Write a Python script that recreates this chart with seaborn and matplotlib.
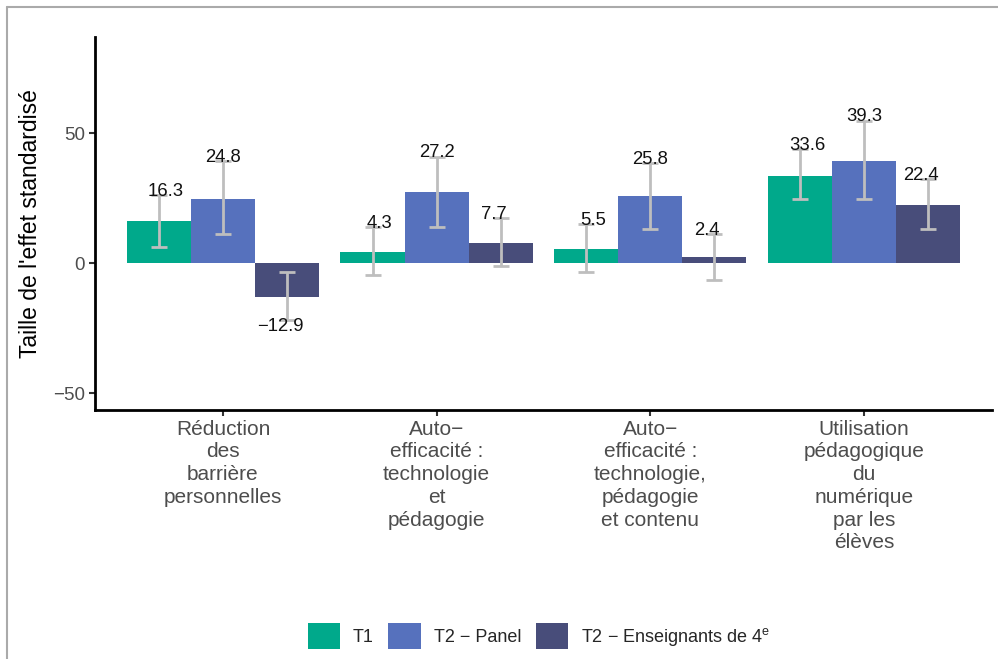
import matplotlib
matplotlib.use("Agg")
import matplotlib.pyplot as plt
import seaborn as sns
import pandas as pd
import numpy as np
from matplotlib.patches import Patch
from matplotlib.lines import Line2D

categories = ["Réduction\ndes\nbarrière\npersonnelles",
              "Auto−\nefficacité :\ntechnologie\net\npédagogie",
              "Auto−\nefficacité :\ntechnologie,\npédagogie\net contenu",
              "Utilisation\npédagogique\ndu\nnumérique\npar les\nélèves"]
series = ["T1", "T2 − Panel", "T2 − Enseignants de 4$^{\\mathrm{e}}$"]
t1 = [16.3, 4.3, 5.5, 33.6]
t2_panel = [24.8, 27.2, 25.8, 39.3]
t2_ens = [-12.9, 7.7, 2.4, 22.4]
t1_low = [6.3, -4.7, -3.5, 24.5]
t1_high = [26.2, 13.7, 15.0, 43.7]
panel_low = [11.0, 14.0, 13.2, 24.5]
panel_high = [39.2, 40.9, 38.3, 54.7]
ens_low = [-21.9, -1.2, -6.5, 13.1]
ens_high = [-3.5, 17.2, 11.0, 32.2]

colors = ["#00A98B", "#5671BD", "#484D7A"]

sns.set_theme(style="white")
plt.rcParams['font.family'] = ['Liberation Sans', 'DejaVu Sans']
plt.rcParams['axes.unicode_minus'] = True
plt.rcParams['mathtext.fontset'] = 'custom'
plt.rcParams['mathtext.rm'] = 'Liberation Sans'

values = [t1, t2_panel, t2_ens]
lows = [t1_low, panel_low, ens_low]
highs = [t1_high, panel_high, ens_high]
df = pd.DataFrame({
    "cat": np.repeat([categories], 3, axis=0).ravel(),
    "serie": np.repeat(series, len(categories)),
    "val": np.concatenate(values),
})

fig = plt.figure(figsize=(9.98, 6.59), dpi=100)
ax = fig.add_axes([0.095, 0.378, 0.899, 0.566])
sns.barplot(data=df, x="cat", y="val", hue="serie", order=categories,
            hue_order=series, palette=colors, width=0.9, errorbar=None,
            saturation=1, legend=False, ax=ax, edgecolor="none")

for cont, v, lo, hi in zip(ax.containers, values, lows, highs):
    xs = np.array([p.get_x() + p.get_width() / 2 for p in cont.patches])
    v = np.array(v); lo = np.array(lo); hi = np.array(hi)
    ax.errorbar(xs, v, yerr=[v - lo, hi - v], fmt="none", ecolor="#BEBEBE",
                elinewidth=2, capsize=6, capthick=2, zorder=3)
    # labels dodged with width 0.8 (vs bars 0.9)
    centers = np.round(xs)
    lx = centers + (xs - centers) * 0.8 / 0.9
    for x, val, l, h in zip(lx, v, lo, hi):
        y = h + 1.5 if val >= 0 else l - 2.5
        txt = f"{val:.1f}".replace("-", "−")
        ax.text(x, y, txt, ha="center", va="center", fontsize=13.3,
                color="#111111", zorder=4)

ax.set_xlim(-0.6, 3.6)
ax.set_ylim(-56.5, 87)
ax.set_yticks([-50, 0, 50])
ax.set_yticklabels(["−50", "0", "50"])
ax.set_xlabel("")
ax.set_ylabel("Taille de l'effet standardisé", fontsize=16.5, color="#000000",
              labelpad=8)
ax.tick_params(axis="y", labelsize=13.5, colors="#333333", labelcolor="#4D4D4D",
               length=4, width=1.5, direction="out", left=True, pad=3)
ax.tick_params(axis="x", labelsize=15, colors="#333333", labelcolor="#4D4D4D",
               length=4, width=1.5, direction="out", bottom=True, pad=3)
for s in ["top", "right"]:
    ax.spines[s].set_visible(False)
for s in ["left", "bottom"]:
    ax.spines[s].set_color("#000000")
    ax.spines[s].set_linewidth(2)
for lab in ax.get_xticklabels():
    lab.set_linespacing(1.25)

handles = [Patch(facecolor=c, edgecolor="none") for c in colors]
fig.legend(handles, series, loc="center", bbox_to_anchor=(0.54, 0.035),
           ncol=3, frameon=False, fontsize=13, handlelength=1.8,
           handleheight=1.9, handletextpad=0.7, columnspacing=0.8)

fig.add_artist(Line2D([7 / 998, 7 / 998], [0, 1 - 7 / 659], transform=fig.transFigure,
                      color="#AAAAAA", linewidth=1.5))
fig.add_artist(Line2D([7 / 998, 1], [1 - 7 / 659, 1 - 7 / 659], transform=fig.transFigure,
                      color="#AAAAAA", linewidth=1.5))
fig.savefig("out.png", dpi=100)
